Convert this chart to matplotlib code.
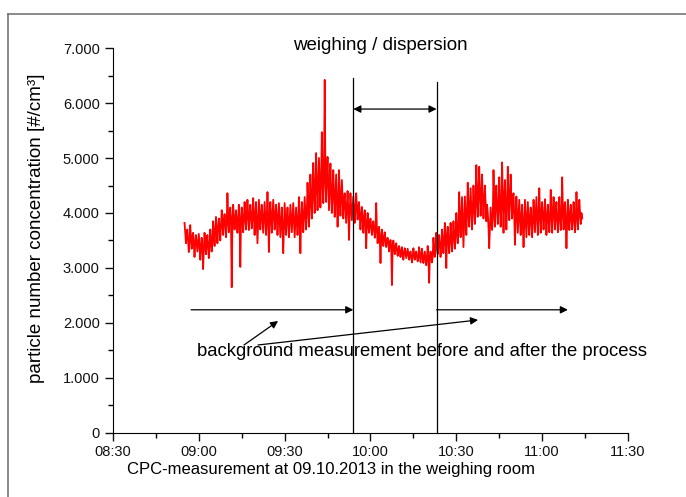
import matplotlib.pyplot as plt
from matplotlib.lines import Line2D
from matplotlib.ticker import MultipleLocator

plt.rcParams['font.family'] = ['Liberation Sans', 'DejaVu Sans']

# CPC readings per minute (minutes after 08:30): upper spikes, band core, lower spikes
start_min = 25
conc_hi = [
    3820, 3700, 3780, 3640, 3600, 3620, 3550, 3640, 3600, 3700,  # 25
    3850, 3930, 3900, 4050, 3980, 4360, 4100, 4150, 4050, 4150,  # 35
    4100, 4200, 4240, 4150, 4270, 4200, 4240, 4150, 4200, 4380,  # 45
    4200, 4240, 4150, 4180, 4100, 4180, 4100, 4150, 4180, 4100,  # 55
    4290, 4200, 4290, 4550, 4700, 4910, 5090, 5000, 5470, 6420,  # 65
    5020, 4900, 4780, 4700, 4780, 4600, 4360, 4400, 4360, 4300,  # 75
    4360, 4200, 4110, 4050, 4000, 3900, 3850, 4180, 3750, 3700,  # 85
    3650, 3550, 3510, 3500, 3450, 3400, 3380, 3360, 3350, 3300,  # 95
    3360, 3300, 3380, 3350, 3300, 3400, 3300, 3550, 3640, 3600,  # 105
    3700, 3820, 3750, 3820, 3850, 4000, 4380, 4290, 4300, 4550,  # 115
    4450, 4500, 4870, 4840, 4700, 4500, 4000, 4100, 4780, 4500,  # 125
    4650, 4920, 4600, 4840, 4700, 4360, 4300, 4240, 4150, 4240,  # 135
    4200, 4100, 4240, 4290, 4450, 4200, 4250, 4150, 4420, 4290,  # 145
    4200, 4290, 4650, 4200, 4240, 4150, 4200, 4380, 4240,        # 155
]
conc_mid = [
    3650, 3500, 3550, 3450, 3450, 3400, 3350, 3450, 3400, 3500,
    3650, 3700, 3750, 3850, 3800, 3950, 3850, 3900, 3850, 3850,
    3900, 3950, 3950, 3950, 3950, 3850, 3950, 3900, 3900, 3900,
    3950, 3950, 3900, 3850, 3750, 3900, 3850, 3900, 3850, 3850,
    3850, 3950, 4000, 4150, 4300, 4450, 4500, 4550, 4650, 4700,
    4500, 4400, 4300, 4200, 4300, 4250, 4100, 4050, 4100, 4050,
    4100, 3950, 3900, 3800, 3800, 3750, 3700, 3700, 3550, 3550,
    3500, 3450, 3400, 3380, 3330, 3300, 3270, 3270, 3250, 3200,
    3250, 3200, 3230, 3200, 3180, 3200, 3200, 3350, 3450, 3400,
    3500, 3550, 3500, 3550, 3600, 3700, 3900, 3850, 3950, 4100,
    4050, 4150, 4350, 4350, 4250, 4150, 3750, 3900, 4200, 4100,
    4150, 4250, 4100, 4300, 4250, 3950, 3950, 3900, 3800, 3900,
    3900, 3850, 3950, 3950, 4000, 3950, 3900, 3900, 4000, 4000,
    3900, 3950, 4100, 3850, 3950, 3900, 3900, 4000, 4000,
]
conc_lo = [
    3450, 3290, 3350, 3200, 3300, 3150, 2980, 3250, 3180, 3300,
    3400, 3450, 3500, 3600, 3560, 3650, 2650, 3700, 3640, 3020,
    3650, 3700, 3690, 3720, 3600, 3450, 3700, 3640, 3600, 3290,
    3640, 3700, 3600, 3560, 3270, 3600, 3560, 3650, 3560, 3600,
    3270, 3650, 3700, 3750, 3900, 4000, 4050, 4100, 4180, 4200,
    4050, 4000, 3930, 3750, 3950, 3900, 3820, 3510, 3870, 3820,
    3880, 3700, 3640, 3360, 3640, 3600, 3550, 3450, 3090, 3400,
    3380, 3300, 2690, 3250, 3220, 3200, 3150, 3180, 3150, 3100,
    3150, 3120, 3100, 3090, 3050, 2730, 3100, 3200, 3250, 3200,
    3270, 3000, 3270, 3300, 3350, 3450, 3560, 3380, 3600, 3750,
    3700, 3800, 3930, 3950, 3900, 3850, 3360, 3690, 3750, 3800,
    3750, 3640, 3700, 3870, 3900, 3420, 3640, 3600, 3380, 3560,
    3600, 3560, 3650, 3600, 3640, 3700, 3600, 3650, 3640, 3700,
    3650, 3690, 3700, 3360, 3690, 3700, 3650, 3700, 3800,
]
end_min, end_val = 164, 3900

x_ticks = [0, 30, 60, 90, 120, 150, 180]
x_labels = ["08:30", "09:00", "09:30", "10:00", "10:30", "11:00", "11:30"]
y_ticks = [0, 1000, 2000, 3000, 4000, 5000, 6000, 7000]
y_labels = ["0", "1.000", "2.000", "3.000", "4.000", "5.000", "6.000", "7.000"]

# process window (weighing / dispersion)
proc_start, proc_end = 84.0, 113.1
bg_before = (27.3, proc_start)
bg_after = (proc_end, 159.0)

t, conc = [], []
for i, (h, md, l) in enumerate(zip(conc_hi, conc_mid, conc_lo)):
    m = start_min + i
    t += [m, m + 0.25, m + 0.5, m + 0.75]
    conc += [h, md, l, md]
t.append(end_min)
conc.append(end_val)

fig = plt.figure(figsize=(6.86, 4.97), dpi=100)
ax = fig.add_axes([0.1647, 0.1288, 0.7507, 0.7746])

ax.plot(t, conc, color="#ff0000", lw=1.3)

ax.set_xlim(0, 180)
ax.set_ylim(0, 7000)
ax.set_xticks(x_ticks)
ax.set_xticklabels(x_labels)
ax.set_yticks(y_ticks)
ax.set_yticklabels(y_labels)
ax.xaxis.set_minor_locator(MultipleLocator(15))
ax.yaxis.set_minor_locator(MultipleLocator(500))
ax.tick_params(which="major", direction="out", length=6, width=1, labelsize=10.5, colors="#111111")
ax.tick_params(which="major", axis="x", pad=2.5)
ax.tick_params(which="minor", direction="out", length=3.5, width=1)
for s in ["top", "right"]:
    ax.spines[s].set_visible(False)

ax.set_xlabel("CPC-measurement at 09.10.2013 in the weighing room", fontsize=12, va="center")
ax.xaxis.set_label_coords(0.423, -0.096)
ax.set_ylabel("particle number concentration [#/cm³]", fontsize=13.5, va="center")
ax.yaxis.set_label_coords(-0.1476, 0.532)

# process boundaries
ax.plot([proc_start, proc_start], [0, 6450], color="k", lw=0.9, clip_on=False)
ax.plot([proc_end, proc_end], [0, 6380], color="k", lw=0.9, clip_on=False)

arrow = dict(color="k", lw=0.9, shrinkA=0, shrinkB=0, mutation_scale=11)
ax.annotate("", xy=(proc_start, 5890), xytext=(proc_end, 5890),
            arrowprops=dict(arrowstyle="<|-|>", **arrow))
ax.annotate("", xy=(bg_before[1], 2240), xytext=(bg_before[0], 2240),
            arrowprops=dict(arrowstyle="-|>", **arrow))
ax.annotate("", xy=(bg_after[1], 2240), xytext=(bg_after[0], 2240),
            arrowprops=dict(arrowstyle="-|>", **arrow))
ax.annotate("", xy=(57.7, 2036), xytext=(45.8, 1600),
            arrowprops=dict(arrowstyle="-|>", **arrow))
ax.annotate("", xy=(127.6, 2055), xytext=(50.7, 1600),
            arrowprops=dict(arrowstyle="-|>", **arrow))

ax.text(93.3, 7050, "weighing / dispersion", ha="center", va="center", fontsize=13.5, clip_on=False)
ax.text(29.4, 1490, "background measurement before and after the process", ha="left", va="center", fontsize=13.3)

# outer frame
fig.add_artist(Line2D([8 / 686, 8 / 686], [0, 1 - 14 / 497], transform=fig.transFigure, color="#777777", lw=1.2))
fig.add_artist(Line2D([8 / 686, 1], [1 - 14 / 497, 1 - 14 / 497], transform=fig.transFigure, color="#777777", lw=1.2))

fig.savefig("out.png", dpi=100)
